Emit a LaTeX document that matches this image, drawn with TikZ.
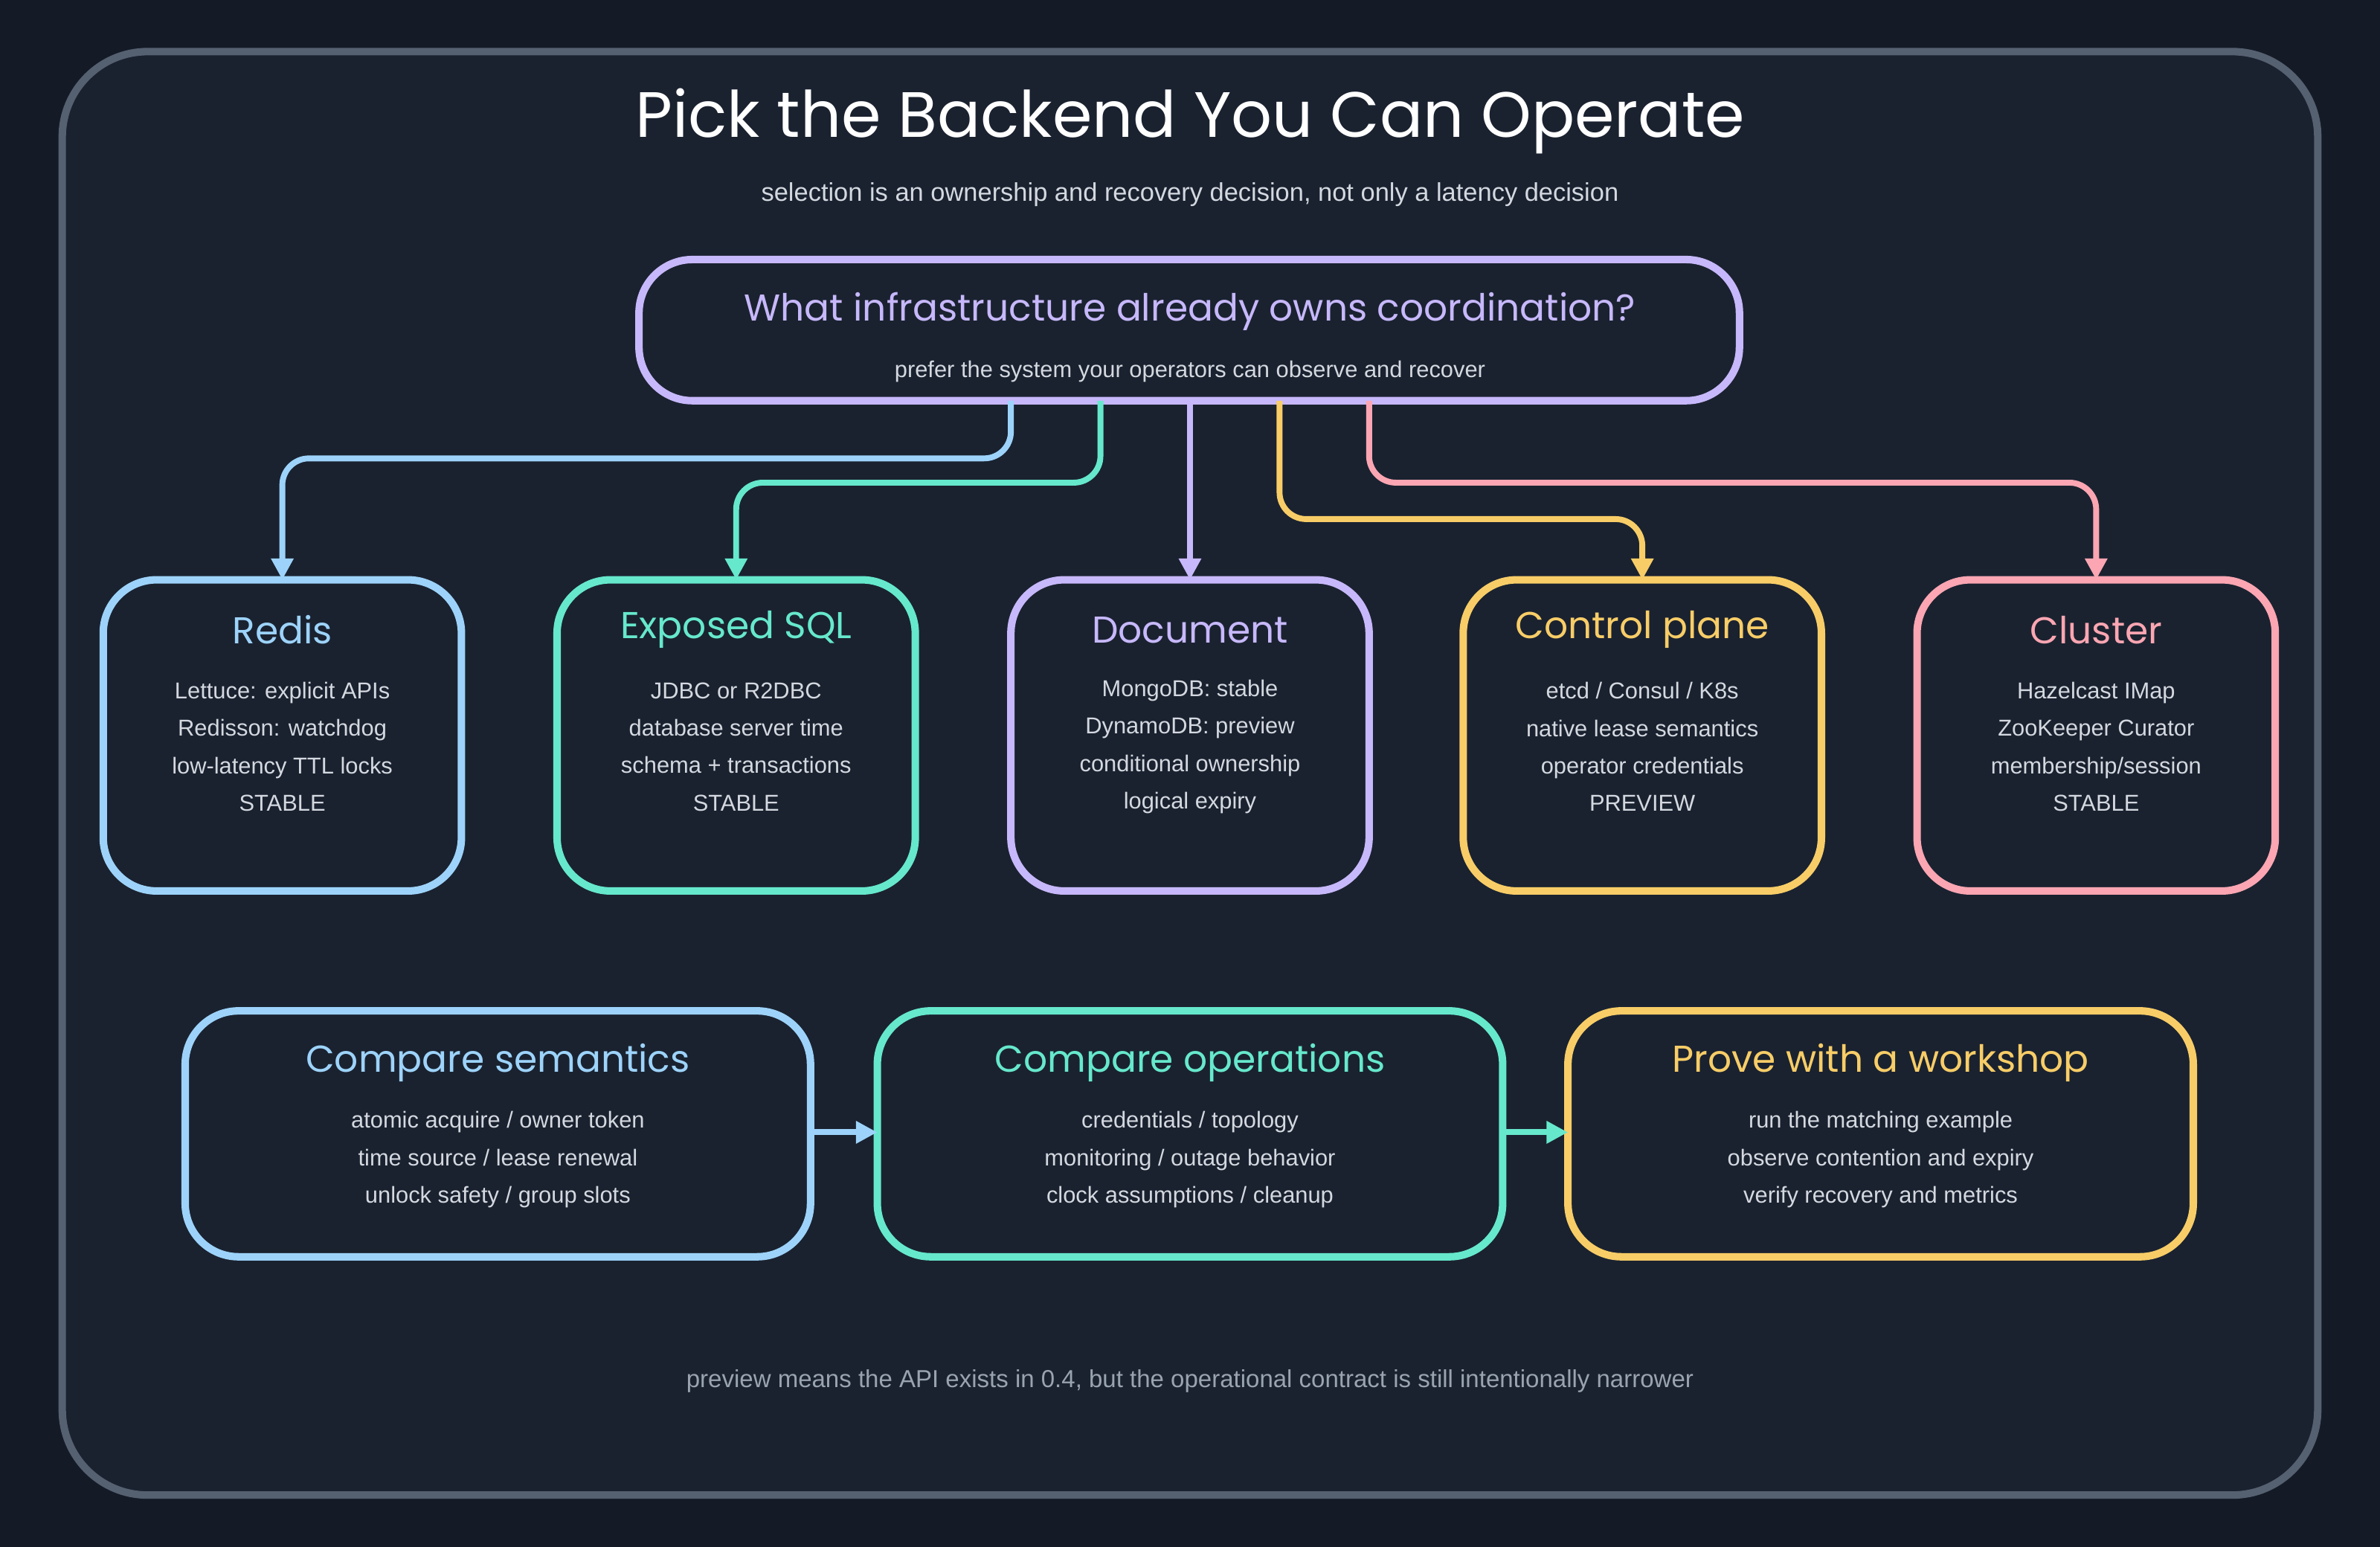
\documentclass[tikz,border=0pt]{standalone}
\usepackage{fontspec}
\setmainfont{Liberation Sans}
\newfontfamily\titlefont{Poppins}
\usetikzlibrary{positioning,arrows.meta}
\definecolor{bgcol}{HTML}{141B27}
\definecolor{panel}{HTML}{1A2230}
\definecolor{edge}{HTML}{556070}
\definecolor{cblue}{HTML}{9DD3FA}
\definecolor{cteal}{HTML}{66E8CC}
\definecolor{cpurp}{HTML}{C7B8FB}
\definecolor{cyell}{HTML}{F8CD67}
\definecolor{cpink}{HTML}{FBA6B2}
\definecolor{txt}{HTML}{D4D8DF}
\definecolor{muted}{HTML}{9AA3B0}

\tikzset{
  card/.style={draw=#1, line width=1.4pt, rounded corners=10pt, fill=panel, inner sep=0},
  head/.style={text=#1, font=\titlefont\fontsize{7}{8}\selectfont},
  body/.style={text=txt, font=\fontsize{4.3}{7}\selectfont, align=center},
  link/.style={draw=#1, line width=1.1pt, rounded corners=5pt, -{Triangle[length=4pt,width=4pt]}}
}
% name, x, colour, title, lines
\newcommand{\backendcard}[5]{
  \draw[card=#3] (#2-118,382) rectangle (#2+118,587);
  \coordinate (#1) at (#2,382);
  \node[head=#3] (#1h) at (#2,415) {#4};
  \node[body] (#1b) at (#2,492) {#5};
}
\newcommand{\stepcard}[5]{
  \draw[card=#3] (#2-206,666) rectangle (#2+206,828);
  \coordinate (#1L) at (#2-206,746);
  \coordinate (#1R) at (#2+206,746);
  \node[head=#3] (#1h) at (#2,700) {#4};
  \node[body] (#1b) at (#2,764) {#5};
}

\begin{document}
\begin{tikzpicture}[x=0.01cm, y=-0.01cm]
            \fill[bgcol] (0,0) rectangle (1568,1019);
            \draw[draw=edge, line width=1.4pt, fill=panel, rounded corners=16pt] (41,34) rectangle (1527,985);
            \node[text=white, font=\titlefont\fontsize{12}{14}\selectfont] (title) at (784,80) {Pick the Backend You Can Operate};
            \node[body, font=\fontsize{4.8}{6}\selectfont] (sub) at (784,128) {selection is an ownership and recovery decision, not only a latency decision};
            % question
            \draw[card=cpurp] (421,171) rectangle (1146,264);
            \coordinate (q) at (784,264);
            \node[head=cpurp] (qh) at (784,205) {What infrastructure already owns coordination?};
            \node[body] (qb) at (784,245) {prefer the system your operators can observe and recover};
            % backends
            \backendcard{redis}{186}{cblue}{Redis}{Lettuce: explicit APIs\\Redisson: watchdog\\low-latency TTL locks\\STABLE}
            \backendcard{sql}{485}{cteal}{Exposed SQL}{JDBC or R2DBC\\database server time\\schema + transactions\\STABLE}
            \backendcard{doc}{784}{cpurp}{Document}{MongoDB: stable\\DynamoDB: preview\\conditional ownership\\logical expiry}
            \backendcard{ctrl}{1082}{cyell}{Control plane}{etcd / Consul / K8s\\native lease semantics\\operator credentials\\PREVIEW}
            \backendcard{clus}{1381}{cpink}{Cluster}{Hazelcast IMap\\ZooKeeper Curator\\membership/session\\STABLE}
            \draw[link=cblue] (666,264) -- (666,302) -- (186,302) -- (redis);
            \draw[link=cteal] (725,264) -- (725,318) -- (485,318) -- (sql);
            \draw[link=cpurp] (q) -- (doc);
            \draw[link=cyell] (843,264) -- (843,342) -- (1082,342) -- (ctrl);
            \draw[link=cpink] (902,264) -- (902,318) -- (1381,318) -- (clus);
            % steps
            \stepcard{sem}{328}{cblue}{Compare semantics}{atomic acquire / owner token\\time source / lease renewal\\unlock safety / group slots}
            \stepcard{ops}{784}{cteal}{Compare operations}{credentials / topology\\monitoring / outage behavior\\clock assumptions / cleanup}
            \stepcard{shop}{1239}{cyell}{Prove with a workshop}{run the matching example\\observe contention and expiry\\verify recovery and metrics}
            \draw[link=cblue] (semR) -- (opsL);
            \draw[link=cteal] (opsR) -- (shopL);
            \node[body, text=muted, font=\fontsize{4.6}{6}\selectfont] (foot) at (784,910) {preview means the API exists in 0.4, but the operational contract is still intentionally narrower};
        \end{tikzpicture}
\end{document}
